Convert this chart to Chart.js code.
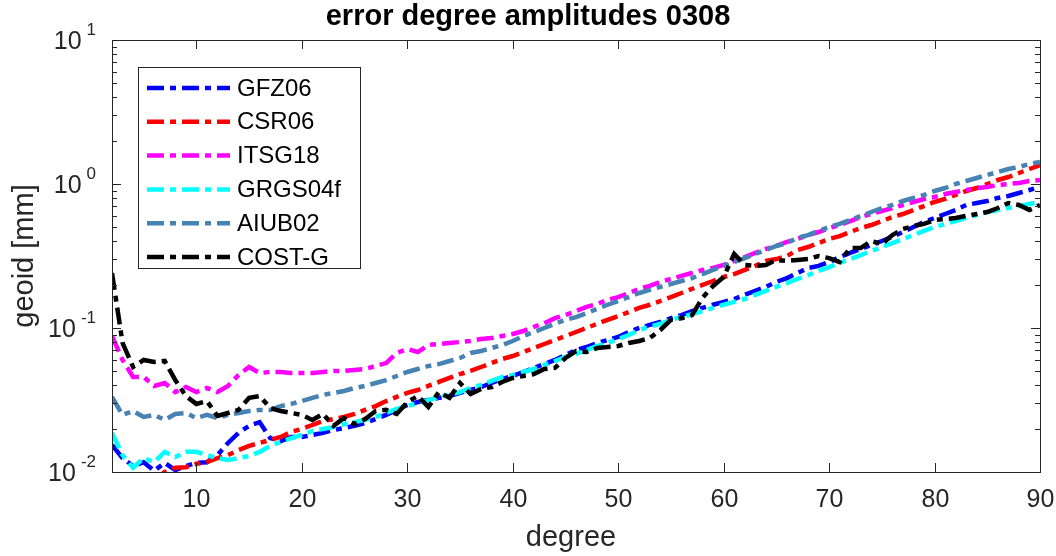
<!DOCTYPE html>
<html>
<head>
<meta charset="utf-8">
<script src="https://cdn.jsdelivr.net/npm/chart.js@4.4.1/dist/chart.umd.min.js"></script>
<style>
html, body { margin: 0; padding: 0; background: #fff; }
</style>
</head>
<body>
<canvas id="errdeg" width="1056" height="556"></canvas>
<script>
// degree axis 2..90
let degrees = [];
for (let d = 2; d <= 90; d++) degrees.push(d);

let xTicks = [10, 20, 30, 40, 50, 60, 70, 80, 90];
let yDecades = [-2, -1, 0, 1];

let GFZ06 = [0.0154,0.0125,0.0110,0.0117,0.0102,0.0116,0.0103,0.0110,0.0116,0.0117,
  0.0131,0.0159,0.0187,0.0209,0.0222,0.0172,0.0164,0.0175,0.0175,0.0181,
  0.0187,0.0196,0.0202,0.0209,0.0219,0.0233,0.0249,0.0270,0.0292,0.0306,
  0.0316,0.0327,0.0337,0.0354,0.0371,0.0389,0.0415,0.0442,0.0464,0.0495,
  0.0528,0.0562,0.0600,0.0649,0.0704,0.0738,0.0787,0.0825,0.0866,0.0938,
  0.100,0.105,0.110,0.117,0.123,0.131,0.138,0.145,0.152,0.159,
  0.170,0.181,0.193,0.209,0.222,0.241,0.261,0.270,0.287,0.311,
  0.332,0.354,0.377,0.402,0.429,0.464,0.503,0.545,0.581,0.619,
  0.660,0.715,0.738,0.762,0.800,0.826,0.866,0.909,0.953];

let CSR06 = [0.0060,0.0068,0.0075,0.0082,0.0088,0.0100,0.0107,0.0108,0.0114,0.0117,
  0.0125,0.0131,0.0142,0.0152,0.0159,0.0167,0.0175,0.0190,0.0199,0.0212,
  0.0226,0.0233,0.0241,0.0253,0.0270,0.0287,0.0311,0.0332,0.0354,0.0371,
  0.0396,0.0422,0.0450,0.0479,0.0503,0.0536,0.0571,0.0609,0.0639,0.0681,
  0.0726,0.0774,0.0825,0.0880,0.0938,0.100,0.107,0.114,0.121,0.129,
  0.138,0.145,0.154,0.164,0.175,0.187,0.199,0.212,0.226,0.237,
  0.253,0.270,0.292,0.301,0.316,0.348,0.365,0.389,0.415,0.435,
  0.464,0.495,0.519,0.553,0.590,0.619,0.660,0.703,0.750,0.787,
  0.839,0.894,0.938,1.000,1.066,1.118,1.192,1.271,1.355];

let ITSG18 = [0.0880,0.0600,0.0457,0.0457,0.0396,0.0415,0.0359,0.0389,0.0359,0.0383,
  0.0359,0.0396,0.0472,0.0536,0.0487,0.0495,0.0495,0.0487,0.0487,0.0487,
  0.0495,0.0503,0.0503,0.0511,0.0519,0.0545,0.0571,0.0671,0.0715,0.0681,
  0.0762,0.0774,0.0787,0.0799,0.0812,0.0839,0.0852,0.0880,0.0909,0.0953,
  0.102,0.108,0.117,0.123,0.131,0.140,0.147,0.157,0.164,0.175,
  0.187,0.196,0.209,0.219,0.230,0.241,0.253,0.261,0.274,0.292,
  0.311,0.332,0.354,0.371,0.396,0.415,0.442,0.464,0.495,0.519,
  0.553,0.590,0.619,0.649,0.681,0.715,0.750,0.787,0.812,0.852,
  0.880,0.909,0.938,0.953,0.984,1.000,1.016,1.049,1.066];

let GRGS04f = [0.0187,0.0131,0.0107,0.0125,0.0117,0.0138,0.0127,0.0138,0.0138,0.0131,
  0.0125,0.0121,0.0125,0.0129,0.0138,0.0152,0.0162,0.0172,0.0181,0.0193,
  0.0199,0.0205,0.0215,0.0222,0.0230,0.0241,0.0257,0.0274,0.0287,0.0301,
  0.0316,0.0332,0.0343,0.0359,0.0383,0.0402,0.0429,0.0457,0.0472,0.0495,
  0.0519,0.0554,0.0590,0.0629,0.0660,0.0704,0.0750,0.0787,0.0839,0.0894,
  0.0969,0.102,0.107,0.114,0.119,0.125,0.131,0.138,0.145,0.152,
  0.159,0.170,0.181,0.193,0.205,0.219,0.233,0.249,0.265,0.283,
  0.301,0.321,0.343,0.365,0.389,0.415,0.442,0.472,0.503,0.528,
  0.553,0.581,0.609,0.639,0.660,0.681,0.703,0.726,0.750];

let AIUB02 = [0.0332,0.0249,0.0265,0.0241,0.0249,0.0230,0.0253,0.0257,0.0237,0.0249,
  0.0237,0.0249,0.0257,0.0265,0.0270,0.0270,0.0287,0.0297,0.0311,0.0327,
  0.0343,0.0354,0.0365,0.0383,0.0396,0.0415,0.0435,0.0464,0.0495,0.0519,
  0.0545,0.0562,0.0590,0.0619,0.0671,0.0692,0.0726,0.0762,0.0812,0.0880,
  0.0938,0.100,0.107,0.114,0.119,0.127,0.136,0.145,0.154,0.164,
  0.175,0.184,0.193,0.202,0.212,0.222,0.237,0.253,0.270,0.287,
  0.306,0.327,0.348,0.371,0.389,0.422,0.442,0.472,0.503,0.528,
  0.562,0.600,0.639,0.681,0.715,0.762,0.800,0.839,0.894,0.938,
  1.000,1.049,1.101,1.155,1.211,1.271,1.312,1.377,1.422];

let COST_G = [0.241,0.0787,0.0536,0.0600,0.0581,0.0590,0.0435,0.0337,0.0297,0.0311,
  0.0245,0.0257,0.0270,0.0327,0.0337,0.0278,0.0265,0.0257,0.0249,0.0230,
  0.0253,0.0209,0.0237,0.0215,0.0233,0.0265,0.0270,0.0253,0.0306,0.0337,
  0.0283,0.0359,0.0327,0.0415,0.0348,0.0377,0.0389,0.0422,0.0450,0.0464,
  0.0479,0.0519,0.0528,0.0619,0.0692,0.0681,0.0726,0.0738,0.0750,0.0787,
  0.0812,0.0852,0.0969,0.114,0.117,0.123,0.162,0.196,0.226,0.327,
  0.274,0.270,0.274,0.297,0.292,0.297,0.301,0.316,0.306,0.287,
  0.359,0.359,0.402,0.383,0.442,0.487,0.511,0.528,0.562,0.571,
  0.581,0.600,0.619,0.639,0.681,0.738,0.715,0.660,0.715];

let seriesNames = ["GFZ06", "CSR06", "ITSG18", "GRGS04f", "AIUB02", "COST-G"];
let seriesData = [GFZ06, CSR06, ITSG18, GRGS04f, AIUB02, COST_G];
let seriesColors = ["#0000ff", "#ff0000", "#ff00ff", "#00ffff", "#4682b4", "#000000"];

const FONT = '"Liberation Sans", Arial, Helvetica, sans-serif';
const AX = '#262626';
const DASH = [17, 6, 6, 6];

function makeSet(i) {
  return {
    label: seriesNames[i],
    data: seriesData[i].map((v, k) => ({x: degrees[k], y: v})),
    borderColor: seriesColors[i],
    backgroundColor: seriesColors[i],
    borderWidth: 4.5,
    borderDash: DASH,
    pointRadius: 0,
    tension: 0,
    clip: 0,
    order: seriesNames.length - i
  };
}

// matlab style box, inward ticks, labels, title and legend
const matlabAxes = {
  id: 'matlabAxes',
  afterDatasetsDraw(chart) {
    const ctx = chart.ctx;
    const a = chart.chartArea;
    const xs = chart.scales.x, ys = chart.scales.y;
    ctx.save();
    ctx.strokeStyle = AX;
    ctx.lineWidth = 1;
    ctx.setLineDash([]);
    ctx.strokeRect(Math.round(a.left) + 0.5, Math.round(a.top) + 0.5,
      Math.round(a.right - a.left), Math.round(a.bottom - a.top));

    function seg(x1, y1, x2, y2) {
      ctx.beginPath(); ctx.moveTo(x1, y1); ctx.lineTo(x2, y2); ctx.stroke();
    }

    // x ticks
    ctx.fillStyle = AX;
    ctx.font = '25px ' + FONT;
    ctx.textAlign = 'center';
    ctx.textBaseline = 'middle';
    xTicks.forEach(v => {
      const px = Math.round(xs.getPixelForValue(v)) + 0.5;
      seg(px, a.bottom, px, a.bottom - 9);
      seg(px, a.top, px, a.top + 9);
      ctx.fillText(String(v), px, a.bottom + 28);
    });

    // y ticks (log, with minor)
    yDecades.forEach(e => {
      const base = Math.pow(10, e);
      const py = Math.round(ys.getPixelForValue(base)) + 0.5;
      seg(a.left, py, a.left + 9, py);
      seg(a.right, py, a.right - 9, py);
      if (e < 1) {
        for (let k = 2; k <= 9; k++) {
          const my = Math.round(ys.getPixelForValue(k * base)) + 0.5;
          seg(a.left, my, a.left + 5, my);
          seg(a.right, my, a.right - 5, my);
        }
      }
      // label 10^e
      const ex = String(e);
      ctx.textAlign = 'right';
      ctx.font = '17px ' + FONT;
      const ew = ctx.measureText(ex).width;
      ctx.fillText(ex, a.left - 16, py - 10);
      ctx.font = '25px ' + FONT;
      ctx.fillText('10', a.left - 21 - ew, py + 2);
    });

    // axis titles
    ctx.textAlign = 'center';
    ctx.font = '29px ' + FONT;
    ctx.fillText('degree', 571, a.bottom + 66);
    ctx.save();
    ctx.translate(25, (a.top + a.bottom) / 2);
    ctx.rotate(-Math.PI / 2);
    ctx.fillText('geoid [mm]', 0, 0);
    ctx.restore();

    // title
    ctx.fillStyle = '#000';
    ctx.font = 'bold 29px ' + FONT;
    ctx.fillText('error degree amplitudes 0308', 528, 17);

    // legend
    const lx = 138, ly = 67, lw = 222, lh = 201;
    ctx.fillStyle = '#fff';
    ctx.fillRect(lx, ly, lw, lh);
    ctx.strokeStyle = AX;
    ctx.lineWidth = 1;
    ctx.strokeRect(lx + 0.5, ly + 0.5, lw, lh);
    ctx.textAlign = 'left';
    ctx.font = '24px ' + FONT;
    chart.data.datasets.forEach((ds, i) => {
      const ry = ly + 21 + i * 33.8;
      ctx.strokeStyle = ds.borderColor;
      ctx.lineWidth = ds.borderWidth;
      ctx.setLineDash(ds.borderDash);
      seg(lx + 9, ry, lx + 92, ry);
      ctx.setLineDash([]);
      ctx.fillStyle = '#000';
      ctx.fillText(ds.label, lx + 99, ry + 1);
    });
    ctx.restore();
  }
};

new Chart("errdeg", {
  type: "line",
  data: {
    datasets: seriesNames.map((n, i) => makeSet(i))
  },
  options: {
    responsive: false,
    animation: false,
    layout: { padding: { left: 112, right: 16, top: 40, bottom: 84 } },
    plugins: {
      legend: { display: false },
      title: { display: false },
      tooltip: { enabled: false }
    },
    scales: {
      x: { type: 'linear', min: 2, max: 90, display: false },
      y: { type: 'logarithmic', min: 0.01, max: 10, display: false }
    }
  },
  plugins: [matlabAxes]
});
</script>
</body>
</html>
